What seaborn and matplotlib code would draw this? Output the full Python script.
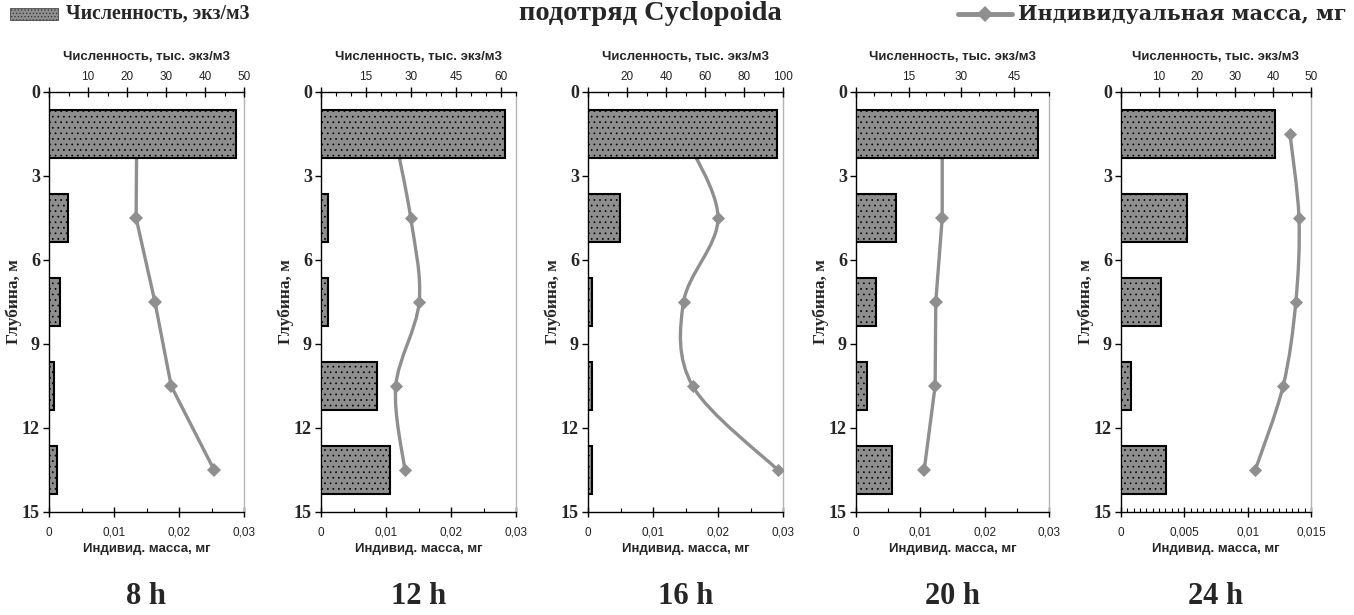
import numpy as np
import pandas as pd
import matplotlib
matplotlib.use("Agg")
import matplotlib.pyplot as plt
import seaborn as sns
from matplotlib.path import Path
from matplotlib.patches import PathPatch, Rectangle
from matplotlib.lines import Line2D
from matplotlib.ticker import MultipleLocator, FuncFormatter

# ---------------- data ----------------
depths = [1.5, 4.5, 7.5, 10.5, 13.5]          # depth of sample layers, m
depth_ticks = [0, 3, 6, 9, 12, 15]

counts_8h = [47.9, 4.9, 2.8, 1.3, 2.1]        # thousand ind./m3
mass_8h = [0.0135, 0.0134, 0.0163, 0.0188, 0.0254]   # mg

counts_12h = [61.3, 2.3, 2.3, 18.7, 23.0]
mass_12h = [0.0113, 0.0138, 0.0151, 0.0115, 0.0129]

counts_16h = [97.0, 16.5, 2.2, 2.2, 2.0]
mass_16h = [0.0147, 0.0200, 0.0147, 0.0161, 0.0292]

counts_20h = [51.9, 11.4, 5.7, 3.1, 10.3]
mass_20h = [0.0134, 0.0134, 0.0124, 0.0123, 0.0106]

counts_24h = [40.5, 17.4, 10.5, 2.6, 11.9]
mass_24h = [0.01334, 0.01405, 0.0138, 0.0128, 0.0106]

panel_labels = ["8 h", "12 h", "16 h", "20 h", "24 h"]
title = "подотряд Cyclopoida"
legend_bar = "Численность, экз/м3"
legend_line = "Индивидуальная масса, мг"
top_label = "Численность, тыс. экз/м3"
bottom_label = "Индивид. масса, мг"
depth_label = "Глубина, м"

# ---------------- layout / style ----------------
W, H = 1354, 615
BAR_C = "#8e8e8e"
LINE_C = "#8f8f8f"
SERIF = ["Liberation Serif", "DejaVu Serif"]
SANS = ["Liberation Sans", "DejaVu Sans"]

# (counts, mass, count max, count major, count minor, mass max, mass major, mass minor, smooth, left px, right px)
panels = [
    (counts_8h, mass_8h, 50, 10, 5, 0.03, 0.01, 0.005, False, 49, 244),
    (counts_12h, mass_12h, 65, 15, 5, 0.03, 0.01, 0.005, True, 321, 516),
    (counts_16h, mass_16h, 100, 20, 10, 0.03, 0.01, 0.005, True, 588, 783),
    (counts_20h, mass_20h, 55, 15, 5, 0.03, 0.01, 0.005, False, 856, 1049),
    (counts_24h, mass_24h, 50, 10, 5, 0.015, 0.005, 0.0005, True, 1121, 1311),
]
TOP_PX, BOT_PX = 92, 512

sns.set_theme(style="ticks")
plt.rcParams["font.family"] = SANS
plt.rcParams["hatch.linewidth"] = 0.5

fig = plt.figure(figsize=(W / 100, H / 100), dpi=100)
fig.patch.set_facecolor("white")


def comma_fmt(v, pos):
    s = f"{v:.4f}".rstrip("0").rstrip(".")
    return s.replace(".", ",").replace("-0", "0")


def top_fmt(v, pos):
    return "" if abs(v) < 1e-9 else f"{v:g}"


def smooth_path(xs, ys):
    P = np.column_stack([xs, ys]).astype(float)
    n = len(P)
    verts = [P[0]]
    codes = [Path.MOVETO]
    for i in range(n - 1):
        p0 = P[i - 1] if i > 0 else P[i]
        p1, p2 = P[i], P[i + 1]
        p3 = P[i + 2] if i + 2 < n else P[i + 1]
        verts += [p1 + (p2 - p0) / 6.0, p2 - (p3 - p1) / 6.0, p2]
        codes += [Path.CURVE4] * 3
    return Path(verts, codes)


for (label, cfg) in zip(panel_labels, panels):
    counts, mass, cmax, cmaj, cmin, mmax, mmaj, mmin, smooth, lpx, rpx = cfg
    rect = [lpx / W, 1 - BOT_PX / H, (rpx - lpx) / W, (BOT_PX - TOP_PX) / H]
    ax = fig.add_axes(rect)
    ax.set_facecolor("white")
    axt = ax.twiny()

    # line: individual mass (bottom axis)
    if smooth:
        ax.add_patch(PathPatch(smooth_path(mass, depths), fill=False,
                               edgecolor=LINE_C, lw=2.4, zorder=2))
        sns.scatterplot(x=mass, y=depths, marker="D", s=45, color=LINE_C,
                        linewidth=0, ax=ax, zorder=3)
    else:
        sns.lineplot(x=mass, y=depths, sort=False, estimator=None, color=LINE_C,
                     lw=2.4, marker="D", markersize=7, markeredgewidth=0, ax=ax)

    # bars: abundance (top axis)
    sns.barplot(x=counts, y=depths, orient="y", native_scale=True, width=0.58,
                color=BAR_C, saturation=1, edgecolor="black", linewidth=1.5,
                hatch="...", ax=axt, zorder=2)

    ax.set_xlim(0, mmax)
    axt.set_xlim(0, cmax)
    ax.set_ylim(15, 0)

    # spines
    for a in (ax, axt):
        for s in a.spines.values():
            s.set_visible(False)
    for s in ("left", "bottom"):
        ax.spines[s].set_visible(True)
        ax.spines[s].set_color("black")
        ax.spines[s].set_linewidth(1.0)
    ax.spines["right"].set_visible(True)
    ax.spines["right"].set_color("#b4b4b4")
    ax.spines["right"].set_linewidth(1.0)
    axt.spines["top"].set_visible(True)
    axt.spines["top"].set_color("black")
    axt.spines["top"].set_linewidth(1.0)

    # bottom axis ticks
    ax.xaxis.set_major_locator(MultipleLocator(mmaj))
    ax.xaxis.set_minor_locator(MultipleLocator(mmin))
    ax.xaxis.set_major_formatter(FuncFormatter(comma_fmt))
    ax.tick_params(axis="x", which="major", direction="inout", length=7, width=1,
                   color="black", labelsize=8.5, pad=7, labelcolor="#222222")
    ax.tick_params(axis="x", which="minor", direction="in", length=3, width=0.8,
                   color="black")

    # top axis ticks
    axt.xaxis.set_major_locator(MultipleLocator(cmaj))
    axt.xaxis.set_minor_locator(MultipleLocator(cmin))
    axt.xaxis.set_major_formatter(FuncFormatter(top_fmt))
    axt.tick_params(axis="x", which="major", direction="inout", length=7, width=1,
                    color="black", labelsize=8.5, pad=3, labelcolor="#222222",
                    top=True, labeltop=True, bottom=False, labelbottom=False)
    axt.tick_params(axis="x", which="minor", direction="in", length=3, width=0.8,
                    color="black", top=True, bottom=False)
    axt.set_ylabel("")
    axt.tick_params(axis="y", left=False, right=False, labelleft=False, labelright=False)

    # depth axis
    ax.set_yticks(depth_ticks)
    ax.set_yticklabels([str(t) for t in depth_ticks], fontfamily=SERIF,
                       fontweight="bold", fontsize=13)
    ax.yaxis.set_minor_locator(plt.NullLocator())
    ax.tick_params(axis="y", which="major", direction="out", length=4, width=1,
                   color="black", pad=2.5, left=True, right=False)

    ax.set_ylabel(depth_label, fontfamily=SERIF, fontweight="bold", fontsize=12.5)
    ax.yaxis.set_label_coords(-27 / (rpx - lpx), 0.5)
    ax.set_xlabel(bottom_label, fontweight="bold", fontsize=9.5, labelpad=3)
    axt.set_xlabel(top_label, fontweight="bold", fontsize=9.5, labelpad=8)

    fig.text((lpx + rpx) / 2 / W, 1 - 597 / H, label, fontfamily=SERIF,
             fontweight="bold", fontsize=22, ha="center", va="center")

# ---------------- title and legend ----------------
fig.text(650 / W, 1 - 14 / H, title, fontfamily=SERIF, fontweight="bold",
         fontsize=20.5, ha="center", va="center")

fig.patches.append(Rectangle((10 / W, 1 - 20 / H), 48 / W, 12 / H,
                             transform=fig.transFigure, facecolor=BAR_C,
                             edgecolor="#333333", lw=0.5, hatch="....."))
fig.text(66 / W, 1 - 14 / H, legend_bar, fontfamily=SERIF, fontweight="bold",
         fontsize=14.3, ha="left", va="center")

fig.lines.append(Line2D([958 / W, 1012 / W], [1 - 14 / H, 1 - 14 / H],
                        transform=fig.transFigure, color=LINE_C, lw=3.5))
fig.lines.append(Line2D([985 / W], [1 - 14 / H], transform=fig.transFigure,
                        color=LINE_C, marker="D", markersize=8, markeredgewidth=0))
fig.text(1018 / W, 1 - 14 / H, legend_line,
         fontfamily=["DejaVu Serif", "Liberation Serif"], fontweight="bold",
         fontsize=14.9, ha="left", va="center")

fig.savefig("out.png", dpi=100, facecolor="white")
